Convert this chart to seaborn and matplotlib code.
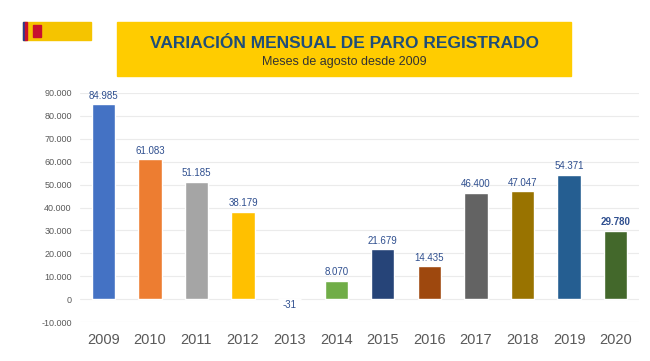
import pandas as pd
import matplotlib.pyplot as plt
import matplotlib.patches as mpatches
import seaborn as sns

# Data: monthly variation of registered unemployment, August of each year
years = ['2009', '2010', '2011', '2012', '2013', '2014',
         '2015', '2016', '2017', '2018', '2019', '2020']
values = [84985, 61083, 51185, 38179, -31, 8070,
          21679, 14435, 46400, 47047, 54371, 29780]
labels = ['84.985', '61.083', '51.185', '38.179', '-31', '8.070',
          '21.679', '14.435', '46.400', '47.047', '54.371', '29.780']
colors = ['#4472C4', '#ED7D31', '#A5A5A5', '#FFC000', '#5B9BD5', '#70AD47',
          '#264478', '#9E480E', '#636363', '#997300', '#255E91', '#43682B']
yticks = list(range(-10000, 90001, 10000))

df = pd.DataFrame({'year': years, 'value': values})

sns.set_style('white')
plt.rcParams['font.family'] = ['Liberation Sans', 'DejaVu Sans']

fig = plt.figure(figsize=(6.5, 3.61), dpi=100)
ax = fig.add_axes([80 / 650, 1 - 322 / 361, 559 / 650, 229 / 361])

sns.barplot(data=df, x='year', y='value', hue='year', palette=colors,
            saturation=1, legend=False, width=0.5, ax=ax, zorder=3)

ax.set_ylim(-10000, 90000)
ax.set_yticks(yticks)
ax.set_yticklabels(['{:,}'.format(t).replace(',', '.') for t in yticks],
                   fontsize=6.5, color='#595959')
ax.tick_params(axis='x', labelsize=10.5, colors='#595959', pad=8, length=0)
ax.tick_params(axis='y', length=0, pad=6)
ax.set_xlabel('')
ax.set_ylabel('')
ax.grid(axis='y', color='#EBEBEB', linewidth=0.8, zorder=0)
for s in ax.spines.values():
    s.set_visible(False)

# Value labels above bars
for i, (v, lab) in enumerate(zip(values, labels)):
    y = v + 1500 if v > 0 else -4800
    ax.text(i, y, lab, ha='center', va='bottom', fontsize=7,
            color='#2F4F8F', fontweight='bold' if years[i] == '2020' else 'normal')

# Title box
fig.patches.append(mpatches.Rectangle((117 / 650, 1 - 76 / 361), 454 / 650, 54 / 361,
                                      transform=fig.transFigure, color='#FFCC00',
                                      zorder=0))
fig.text(344 / 650, 1 - 44 / 361, 'VARIACIÓN MENSUAL DE PARO REGISTRADO',
         ha='center', va='center', fontsize=12.5, fontweight='bold',
         color='#1F4E79', family=['Liberation Sans Narrow', 'Liberation Sans'])
fig.text(344 / 650, 1 - 62 / 361, 'Meses de agosto desde 2009',
         ha='center', va='center', fontsize=9, color='#333333',
         family=['Liberation Sans Narrow', 'Liberation Sans'])

# Government logo (simplified)
fig.patches.append(mpatches.Rectangle((23 / 650, 1 - 40 / 361), 68 / 650, 18 / 361,
                                      transform=fig.transFigure, color='#F5C400'))
fig.patches.append(mpatches.Rectangle((23 / 650, 1 - 40 / 361), 2 / 650, 18 / 361,
                                      transform=fig.transFigure, color='#2A3C8F'))
fig.patches.append(mpatches.Rectangle((25 / 650, 1 - 40 / 361), 2 / 650, 18 / 361,
                                      transform=fig.transFigure, color='#C8102E'))
fig.patches.append(mpatches.Rectangle((33 / 650, 1 - 37 / 361), 8 / 650, 12 / 361,
                                      transform=fig.transFigure, color='#C8102E'))

fig.savefig('out.png', dpi=100, facecolor='white')
